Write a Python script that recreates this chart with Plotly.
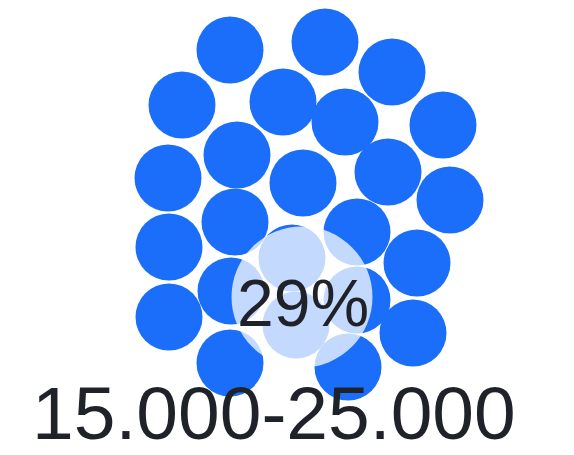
import plotly.graph_objects as go

# Packed bubble positions (in chart pixel units) for the 24 dots
dot_x = [230, 325, 392, 182, 283, 345, 443, 237, 168, 303, 388, 450,
         235, 169, 357, 417, 169, 231, 230, 348, 413, 357, 292, 296]
dot_y = [50, 42, 72, 105, 102, 122, 125, 155, 178, 183, 172, 200,
         222, 247, 232, 263, 317, 291, 363, 367, 333, 300, 258, 325]

highlight_label = ["29%"]
highlight_x = [302]
highlight_y = [297]
category_label = "15.000-25.000"

W, H = 574, 455
BLUE = "#1b6ef9"
TEXT = "#1f2329"
FONT = "Liberation Sans, Arial, Helvetica, sans-serif"

fig = go.Figure()
fig.add_trace(go.Scatter(
    x=dot_x, y=dot_y, mode="markers",
    marker=dict(size=67, color=BLUE, line=dict(width=0)),
    hoverinfo="skip", showlegend=False,
))
fig.add_trace(go.Scatter(
    x=highlight_x, y=highlight_y, mode="markers",
    marker=dict(size=141, color="rgba(255,255,255,0.74)", line=dict(width=0)),
    hoverinfo="skip", showlegend=False,
))
fig.add_annotation(
    x=highlight_x[0] + 1, y=highlight_y[0] + 6, text=highlight_label[0],
    showarrow=False, xanchor="center", yanchor="middle",
    font=dict(size=66, color=TEXT, family=FONT),
)
fig.add_annotation(
    x=274, y=413, text=category_label, showarrow=False,
    xanchor="center", yanchor="middle",
    font=dict(size=75, color=TEXT, family=FONT),
)
fig.update_xaxes(range=[0, W], visible=False, fixedrange=True)
fig.update_yaxes(range=[H, 0], visible=False, fixedrange=True)
fig.update_layout(
    width=W, height=H, margin=dict(l=0, r=0, t=0, b=0),
    paper_bgcolor="white", plot_bgcolor="white",
)
fig.write_html(
    "out.html",
    config={"displayModeBar": False},
    post_script="document.body.style.margin='0';document.body.style.overflow='hidden';",
)
